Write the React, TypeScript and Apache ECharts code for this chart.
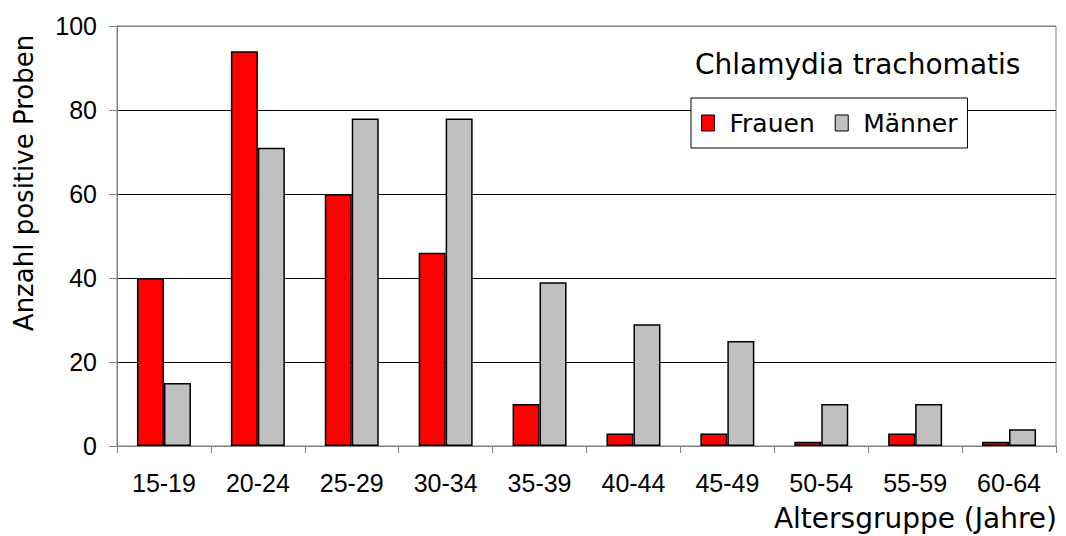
import React, { useEffect, useRef } from "react";
import * as echarts from "echarts";

const categories = ["15-19", "20-24", "25-29", "30-34", "35-39", "40-44", "45-49", "50-54", "55-59", "60-64"];
const frauen = [40, 94, 60, 46, 10, 3, 3, 1, 3, 1];
const maenner = [15, 71, 78, 78, 39, 29, 25, 10, 10, 4];
const yTicks = [0, 20, 40, 60, 80, 100];
const titleText = "Chlamydia trachomatis";
const xName = "Altersgruppe (Jahre)";
const yName = "Anzahl positive Proben";

const geoFont = "DejaVu Sans";
const numFont = "Liberation Sans";

export default function App() {
  const ref = useRef<HTMLDivElement>(null);
  useEffect(() => {
    document.body.style.margin = "0";
    const chart = echarts.init(ref.current!, null, { renderer: "svg" });
    chart.setOption({
      animation: false,
      backgroundColor: "#fff",
      grid: {
        left: 117,
        right: 10,
        top: 26,
        bottom: 90,
        show: true,
        borderColor: "#808080",
        borderWidth: 1,
        outerBoundsMode: "none",
      },
      legend: {
        left: 691,
        top: 98,
        orient: "horizontal",
        backgroundColor: "#fff",
        borderColor: "#000",
        borderWidth: 1,
        padding: [10, 10, 10, 10],
        itemWidth: 13,
        itemHeight: 16,
        itemGap: 20,
        icon: "rect",
        itemStyle: { borderColor: "#000", borderWidth: 1 },
        textStyle: { fontFamily: geoFont, fontSize: 25, color: "#000", lineHeight: 30, padding: [0, 0, 0, 10] },
        data: ["Frauen", "Männer"],
      },
      xAxis: {
        type: "category",
        data: categories,
        boundaryGap: true,
        axisLine: { lineStyle: { color: "#808080", width: 1 } },
        axisTick: { show: true, length: 7, inside: false, lineStyle: { color: "#808080" } },
        axisLabel: { fontFamily: numFont, fontSize: 25, color: "#000", margin: 24 },
        splitLine: { show: false },
      },
      yAxis: {
        type: "value",
        min: yTicks[0],
        max: yTicks[yTicks.length - 1],
        interval: 20,
        axisLine: { show: true, lineStyle: { color: "#808080", width: 1 } },
        axisTick: { show: true, length: 8, inside: false, lineStyle: { color: "#808080" } },
        axisLabel: { fontFamily: numFont, fontSize: 25, color: "#000", margin: 20 },
        splitLine: {
          show: true,
          lineStyle: { color: ["#808080", "#000", "#000", "#000", "#000", "#808080"], width: 1 },
        },
      },
      series: [
        {
          name: "Frauen",
          type: "bar",
          data: frauen,
          barWidth: 27,
          barGap: "0%",
          itemStyle: { color: "#ff0000", borderColor: "#000", borderWidth: 1.5 },
        },
        {
          name: "Männer",
          type: "bar",
          data: maenner,
          barWidth: 27,
          barGap: "0%",
          itemStyle: { color: "#c0c0c0", borderColor: "#000", borderWidth: 1.5 },
        },
      ],
      graphic: [
        {
          type: "text",
          x: 695,
          y: 64,
          style: {
            text: titleText,
            fontFamily: geoFont,
            fontSize: 28,
            fill: "#000",
            align: "left",
            verticalAlign: "middle",
          },
        },
        {
          type: "text",
          x: 1057,
          y: 518,
          style: {
            text: xName,
            fontFamily: geoFont,
            fontSize: 28,
            fill: "#000",
            align: "right",
            verticalAlign: "middle",
          },
        },
        {
          type: "text",
          x: 24,
          y: 183,
          rotation: Math.PI / 2,
          style: {
            text: yName,
            fontFamily: geoFont,
            fontSize: 26,
            fill: "#000",
            align: "center",
            verticalAlign: "middle",
          },
        },
      ],
    });
    return () => chart.dispose();
  }, []);
  return <div ref={ref} style={{ width: 1066, height: 536 }} />;
}
